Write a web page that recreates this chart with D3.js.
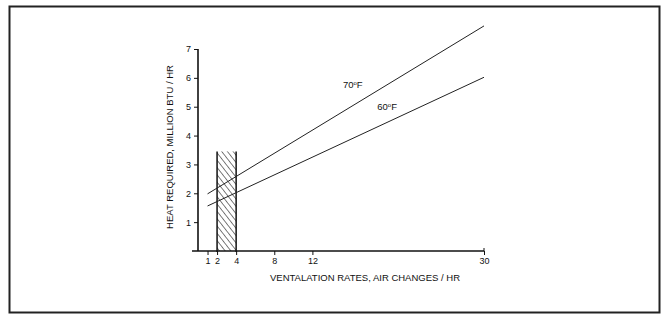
<!DOCTYPE html>
<html>
<head>
<meta charset="utf-8">
<script src="https://cdn.jsdelivr.net/npm/d3@7"></script>
<style>
  body { margin: 0; background: #fff; }
  svg { display: block; font-family: "Liberation Sans", Arial, sans-serif; }
</style>
</head>
<body>
<div id="container"></div>
<script>
/* DATA */
const xTicks = [1, 2, 4, 8, 12, 30];
const yTicks = [1, 2, 3, 4, 5, 6, 7];
const line70 = [{x: 1, y: 1.98}, {x: 30, y: 7.8}];
const line60 = [{x: 1, y: 1.56}, {x: 30, y: 6.02}];
const bandX = [2, 4];
const bandTop = 3.45;

/* CONSTANTS */
const width = 661, height = 314;

const svg = d3.select("#container").append("svg")
  .attr("width", width)
  .attr("height", height);

// outer frame
svg.append("rect")
  .attr("x", 9.5).attr("y", 6.5)
  .attr("width", 650).attr("height", 306)
  .attr("fill", "none")
  .attr("stroke", "#222")
  .attr("stroke-width", 2);

/* SCALES */
const xScale = d3.scaleLinear().domain([0, 30]).range([198, 484]);
const yScale = d3.scaleLinear().domain([0, 7]).range([251, 49]);

// hatch pattern
const defs = svg.append("defs");
const pat = defs.append("pattern")
  .attr("id", "hatch")
  .attr("patternUnits", "userSpaceOnUse")
  .attr("width", 4.5).attr("height", 4.5)
  .attr("patternTransform", "rotate(-38)");
pat.append("line")
  .attr("x1", 0).attr("y1", 0).attr("x2", 0).attr("y2", 4.5)
  .attr("stroke", "#111").attr("stroke-width", 1.1);

// hatched band
svg.append("rect")
  .attr("x", xScale(bandX[0]))
  .attr("y", yScale(bandTop))
  .attr("width", xScale(bandX[1]) - xScale(bandX[0]))
  .attr("height", yScale(0) - yScale(bandTop))
  .attr("fill", "url(#hatch)");

svg.selectAll(".bandEdge")
  .data(bandX)
  .join("line")
  .attr("x1", d => xScale(d)).attr("x2", d => xScale(d))
  .attr("y1", yScale(bandTop)).attr("y2", yScale(0) + 1)
  .attr("stroke", "#111").attr("stroke-width", 1.5);

//Axes
const xAxis = d3.axisBottom(xScale)
  .tickValues(xTicks)
  .tickFormat(d3.format("d"))
  .tickSize(4)
  .tickSizeOuter(0)
  .tickPadding(3);
const gx = svg.append("g")
  .attr("transform", `translate(0, ${yScale(0)})`)
  .call(xAxis);
gx.select(".domain").attr("d", `M${xScale(0) - 6},0H${xScale(30)}`)
  .attr("stroke", "#111").attr("stroke-width", 1.6);

const yAxis = d3.axisLeft(yScale)
  .tickValues(yTicks)
  .tickFormat(d3.format("d"))
  .tickSize(4)
  .tickSizeOuter(0)
  .tickPadding(3);
const gy = svg.append("g")
  .attr("transform", `translate(${xScale(0)},0)`)
  .call(yAxis);
gy.select(".domain").attr("d", `M0,${yScale(7)}V${yScale(0)}`)
  .attr("stroke", "#111").attr("stroke-width", 1.6);

svg.selectAll(".tick text")
  .style("font-size", "9px")
  .attr("fill", "#111");
svg.selectAll(".tick line").attr("stroke", "#111");

// end tick at 30 pointing up
svg.append("line")
  .attr("x1", xScale(30)).attr("x2", xScale(30))
  .attr("y1", yScale(0) - 3).attr("y2", yScale(0))
  .attr("stroke", "#111");

/* LINES */
const line = d3.line().x(d => xScale(d.x)).y(d => yScale(d.y));
[line70, line60].forEach(s => {
  svg.append("path")
    .attr("d", line(s))
    .attr("fill", "none")
    .attr("stroke", "#222")
    .attr("stroke-width", 1);
});

// line labels
const tLabel = (x, y, t) => {
  const tx = svg.append("text")
    .attr("x", xScale(x)).attr("y", yScale(y))
    .style("font-size", "9.5px")
    .attr("fill", "#111");
  tx.append("tspan").text(t);
  tx.append("tspan").attr("dy", -3).style("font-size", "6px").text("o");
  tx.append("tspan").attr("dy", 3).text("F");
};
tLabel(15.2, 5.65, "70");
tLabel(18.8, 4.88, "60");

// axis titles
svg.append("text")
  .attr("x", 365).attr("y", 281)
  .attr("text-anchor", "middle")
  .style("font-size", "9.5px")
  .attr("fill", "#111")
  .text("VENTALATION RATES, AIR CHANGES / HR");

svg.append("text")
  .attr("transform", "translate(173,147) rotate(-90)")
  .attr("text-anchor", "middle")
  .style("font-size", "9.5px")
  .attr("fill", "#111")
  .text("HEAT REQUIRED, MILLION BTU / HR");
</script>
</body>
</html>
